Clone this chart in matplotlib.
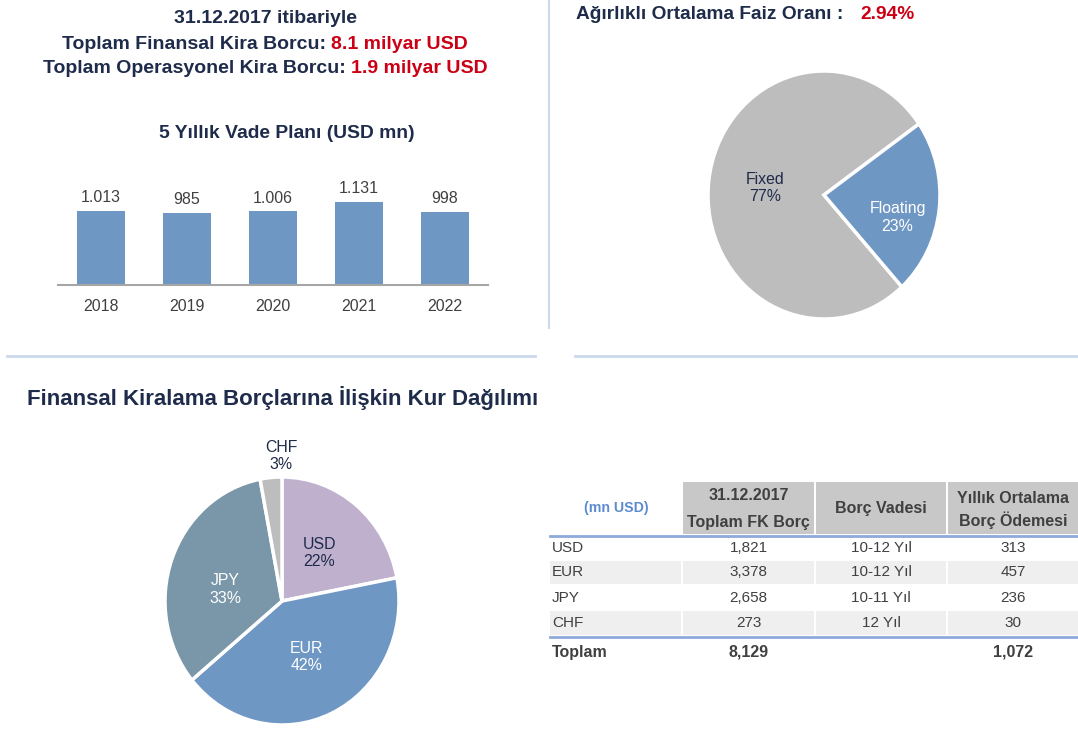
import numpy as np
import matplotlib
matplotlib.use('Agg')
import matplotlib.pyplot as plt
from matplotlib.patches import Rectangle

plt.rcParams['font.family'] = ['Liberation Sans', 'DejaVu Sans']

# ---- data ----
years = ['2018', '2019', '2020', '2021', '2022']
vade_plan = [1013, 985, 1006, 1131, 998]

faiz_labels = ['Fixed', 'Floating']
faiz_share = [77, 23]

kur_labels = ['USD', 'EUR', 'JPY', 'CHF']
kur_share = [22, 42, 33, 3]

tbl_ccy = ['USD', 'EUR', 'JPY', 'CHF']
tbl_fk = [1821, 3378, 2658, 273]
tbl_vade = ['10-12 Yıl', '10-12 Yıl', '10-11 Yıl', '12 Yıl']
tbl_odeme = [313, 457, 236, 30]
tbl_total_fk = 8129
tbl_total_odeme = 1072

# ---- style ----
W, H = 1078, 729
NAVY = '#1E2B4A'
RED = '#CC0014'
TXT = '#404040'
BLUE = '#6F97C4'
GREY = '#BDBDBD'
LINE = '#CBD9EC'

fig = plt.figure(figsize=(W / 100, H / 100), dpi=100)
bg = fig.add_axes([0, 0, 1, 1])
bg.set_xlim(0, W)
bg.set_ylim(H, 0)
bg.axis('off')
renderer = fig.canvas.get_renderer()


def px_axes(x0, y0, x1, y1):
    return fig.add_axes([x0 / W, 1 - y1 / H, (x1 - x0) / W, (y1 - y0) / H])


def rich(x, y, parts, size, gap=5, center=True):
    """several coloured bold pieces on one line"""
    texts = [bg.text(0, y, s, color=c, fontsize=size, fontweight='bold',
                     ha='left', va='center') for s, c in parts]
    widths = [t.get_window_extent(renderer).width for t in texts]
    total = sum(widths) + gap * (len(texts) - 1)
    start = x - total / 2 if center else x
    for t, w in zip(texts, widths):
        t.set_x(start)
        start += w + gap


# ---- headings ----
rich(265, 18, [('31.12.2017 itibariyle', NAVY)], 14)
rich(265, 44, [('Toplam Finansal Kira Borcu:', NAVY), ('8.1 milyar USD', RED)], 14)
rich(265, 68, [('Toplam Operasyonel Kira Borcu:', NAVY), ('1.9 milyar USD', RED)], 14)
rich(287, 133, [('5 Yıllık Vade Planı (USD mn)', NAVY)], 13.9)
rich(576, 14, [('Ağırlıklı Ortalama Faiz Oranı :', NAVY), ('2.94%', RED)], 13.8,
     gap=17, center=False)
rich(27, 398, [('Finansal Kiralama Borçlarına İlişkin Kur Dağılımı', NAVY)], 16,
     center=False)

# separators
bg.plot([549, 549], [0, 328], color=LINE, lw=1.5)
bg.plot([7, 535], [356, 356], color=LINE, lw=2)
bg.plot([575, 1078], [356, 356], color=LINE, lw=2)

# ---- bar chart ----
bax = px_axes(58, 175, 488, 285)
x = np.arange(len(years))
bax.bar(x, vade_plan, width=0.55, color=BLUE)
bax.set_xlim(-0.5, 4.5)
bax.set_ylim(0, 1499)
for s in ['left', 'top', 'right']:
    bax.spines[s].set_visible(False)
bax.spines['bottom'].set_color('#A6A6A6')
bax.spines['bottom'].set_linewidth(1.5)
bax.set_yticks([])
bax.set_xticks(x, years)
bax.tick_params(axis='x', length=0, pad=10, labelsize=11.5, labelcolor=TXT)
bax.patch.set_alpha(0)
for i, v in enumerate(vade_plan):
    bax.annotate(f'{v:,}'.replace(',', '.'), (i, v), xytext=(0, 4),
                 textcoords='offset points', ha='center', va='bottom',
                 fontsize=11.5, color=TXT)


def pie_labels(ax, wedges, labels, shares, radii, shifts, colors):
    # label at wedge middle angle (+ small angular shift), radius r
    for w, lab, sh, r, d, c in zip(wedges, labels, shares, radii, shifts, colors):
        ang = np.deg2rad((w.theta1 + w.theta2) / 2 + d)
        ax.text(r * np.cos(ang), r * np.sin(ang), f'{lab}\n{sh}%', ha='center',
                va='center', fontsize=11.4, color=c, linespacing=1.2)


# ---- fixed / floating pie ----
pax = px_axes(708, 71, 940, 319)
wedges, _ = pax.pie(faiz_share, colors=[GREY, BLUE], startangle=35,
                    wedgeprops=dict(edgecolor='white', linewidth=2.5))
pax.set_aspect('auto')
pax.set_xlim(-1, 1)
pax.set_ylim(-1, 1)
pie_labels(pax, wedges, faiz_labels, faiz_share, [0.51, 0.66], [0, -9.5],
           [NAVY, 'white'])

# ---- currency pie ----
kax = px_axes(165, 477, 399, 725)
wedges, _ = kax.pie(kur_share, colors=['#BFB0CE', BLUE, '#7A97A9', GREY],
                    startangle=90, counterclock=False,
                    wedgeprops=dict(edgecolor='white', linewidth=2.5))
kax.set_aspect('auto')
kax.set_xlim(-1, 1)
kax.set_ylim(-1, 1)
pie_labels(kax, wedges, kur_labels, kur_share, [0.5, 0.5, 0.49, 1.17],
           [0, 0, 9, -5], [NAVY, 'white', 'white', NAVY])

# ---- table ----
cols = [(550, 681), (683, 814), (816, 946), (948, 1078)]
centers = [(a + b) / 2 for a, b in cols]
for a, b in cols[1:]:
    bg.add_patch(Rectangle((a, 482), b - a, 52, color='#C8C8C8', lw=0))
bg.text(616, 508, '(mn USD)', ha='center', va='center', fontsize=10.2,
        fontweight='bold', color='#5B8BD0')
hdr = dict(ha='center', va='center', fontsize=11.5, fontweight='bold', color=TXT)
bg.text(centers[1], 495, '31.12.2017', **hdr)
bg.text(centers[1], 522, 'Toplam FK Borç', **hdr)
bg.text(centers[2], 509, 'Borç Vadesi', **hdr)
bg.text(centers[3], 498, 'Yıllık Ortalama', **hdr)
bg.text(centers[3], 520, 'Borç Ödemesi', **hdr)
bg.plot([550, 1078], [536, 536], color='#8EAADB', lw=2)

row_top = [536, 560, 585, 610]
row_bot = [560, 585, 610, 636]
for r, (ccy, fk, vd, od) in enumerate(zip(tbl_ccy, tbl_fk, tbl_vade, tbl_odeme)):
    y0, y1 = row_top[r], row_bot[r]
    if r % 2 == 1:
        for a, b in cols:
            bg.add_patch(Rectangle((a, y0 + 1), b - a, y1 - y0 - 2,
                                   color='#EFEFEF', lw=0))
    yc = (y0 + y1) / 2
    bg.text(552, yc, ccy, ha='left', va='center', fontsize=11, color=TXT)
    bg.text(centers[1], yc, f'{fk:,}', ha='center', va='center', fontsize=11, color=TXT)
    bg.text(centers[2], yc, vd, ha='center', va='center', fontsize=11, color=TXT)
    bg.text(centers[3], yc, f'{od:,}', ha='center', va='center', fontsize=11, color=TXT)

bg.plot([550, 1078], [637, 637], color='#8EAADB', lw=2)
bold = dict(va='center', fontsize=11.5, fontweight='bold', color=TXT)
bg.text(552, 652, 'Toplam', ha='left', **bold)
bg.text(centers[1], 652, f'{tbl_total_fk:,}', ha='center', **bold)
bg.text(centers[3], 652, f'{tbl_total_odeme:,}', ha='center', **bold)

fig.savefig('out.png', dpi=100)
